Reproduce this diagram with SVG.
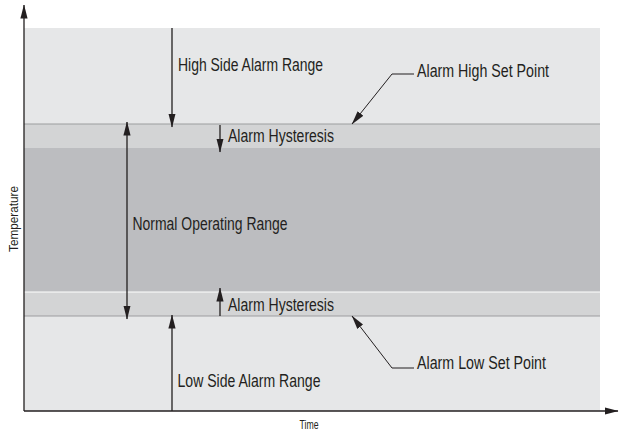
<svg xmlns="http://www.w3.org/2000/svg" width="620" height="436" viewBox="0 0 620 436">
<style>
.t{font-family:"Liberation Sans",Arial,sans-serif;font-size:17.5px;fill:#231f20}
.s{font-family:"Liberation Sans",Arial,sans-serif;font-size:12px;fill:#231f20}
.ln{stroke:#231f20;stroke-width:1.3;fill:none}
.lead{stroke:#231f20;stroke-width:1;fill:none}
</style>
<defs>
<marker id="ah" markerUnits="userSpaceOnUse" markerWidth="14" markerHeight="8" refX="13.5" refY="3.6" orient="auto-start-reverse" viewBox="0 0 14 7.2">
<path d="M0,0 L14,3.6 L0,7.2 z" fill="#231f20"/>
</marker>
</defs>
<g id="bands">
<rect x="24" y="28" width="576" height="96" fill="#e6e7e8"/>
<rect x="24" y="124" width="576" height="24" fill="#d3d4d5"/>
<rect x="24" y="148" width="576" height="144" fill="#bcbdc0"/>
<rect x="24" y="292" width="576" height="24" fill="#d3d4d5"/>
<rect x="24" y="316" width="576" height="95" fill="#e6e7e8"/>
<line x1="24" y1="124" x2="600" y2="124" stroke="#9c9d9f" stroke-width="1"/>
<line x1="24" y1="292" x2="600" y2="292" stroke="#ffffff" stroke-width="1"/>
<line x1="24" y1="316" x2="600" y2="316" stroke="#9c9d9f" stroke-width="1"/>
</g>
<g id="connectors">
<line class="ln" x1="24" y1="411" x2="24" y2="5" marker-end="url(#ah)"/>
<line class="ln" x1="24" y1="411" x2="618" y2="411" marker-end="url(#ah)"/>
<line class="ln" x1="172" y1="28" x2="172" y2="127" marker-end="url(#ah)"/>
<line class="ln" x1="172" y1="411" x2="172" y2="315" marker-end="url(#ah)"/>
<line class="ln" x1="127" y1="122" x2="127" y2="319" marker-start="url(#ah)" marker-end="url(#ah)"/>
<line class="ln" x1="220" y1="125" x2="220" y2="152" marker-end="url(#ah)"/>
<line class="ln" x1="220" y1="316" x2="220" y2="288" marker-end="url(#ah)"/>
<polyline class="lead" points="414,74 392,74 352,124" marker-end="url(#ah)"/>
<polyline class="lead" points="414,368 392,368 352,316" marker-end="url(#ah)"/>
</g>
<g id="high-side"><text class="t" x="178" y="70.5" textLength="145" lengthAdjust="spacingAndGlyphs">High Side Alarm Range</text></g>
<g id="high-setpoint"><text class="t" x="417" y="76.5" textLength="132" lengthAdjust="spacingAndGlyphs">Alarm High Set Point</text></g>
<g id="hyst-high"><text class="t" x="228" y="141.5" textLength="106" lengthAdjust="spacingAndGlyphs">Alarm Hysteresis</text></g>
<g id="normal"><text class="t" x="132.5" y="229.5" textLength="155" lengthAdjust="spacingAndGlyphs">Normal Operating Range</text></g>
<g id="hyst-low"><text class="t" x="228" y="310.5" textLength="106" lengthAdjust="spacingAndGlyphs">Alarm Hysteresis</text></g>
<g id="low-setpoint"><text class="t" x="417" y="369" textLength="129" lengthAdjust="spacingAndGlyphs">Alarm Low Set Point</text></g>
<g id="low-side"><text class="t" x="177.5" y="386.5" textLength="143" lengthAdjust="spacingAndGlyphs">Low Side Alarm Range</text></g>
<g id="time"><text class="s" x="309" y="429" text-anchor="middle" textLength="19" lengthAdjust="spacingAndGlyphs">Time</text></g>
<g id="temperature"><text class="s" transform="translate(17.5,219) rotate(-90)" x="0" y="0" text-anchor="middle" textLength="66" lengthAdjust="spacingAndGlyphs">Temperature</text></g>
</svg>
